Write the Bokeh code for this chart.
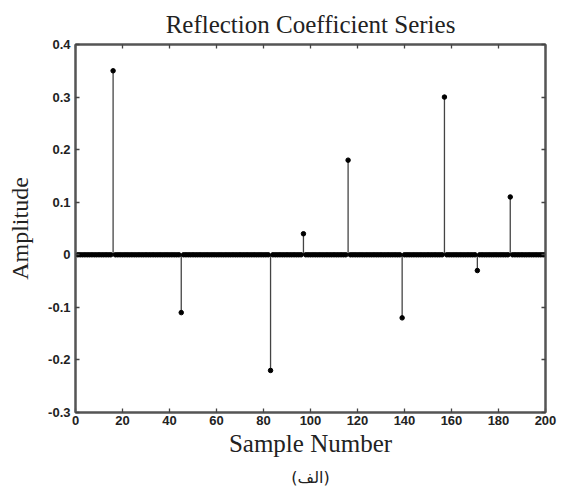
from bokeh.plotting import figure
from bokeh.models import LinearAxis, Range1d, Title, FixedTicker, ColumnDataSource
from bokeh.embed import file_html
from bokeh.resources import INLINE

# Data
n_samples = 200
spike_positions = [16, 45, 83, 97, 116, 139, 157, 171, 185]
spike_values = [0.35, -0.11, -0.22, 0.04, 0.18, -0.12, 0.30, -0.03, 0.11]
x_ticks = [0, 20, 40, 60, 80, 100, 120, 140, 160, 180, 200]
y_ticks = [-0.3, -0.2, -0.1, 0, 0.1, 0.2, 0.3, 0.4]
y_tick_labels = {-0.3: "-0.3", -0.2: "-0.2", -0.1: "-0.1", 0: "0", 0.1: "0.1", 0.2: "0.2", 0.3: "0.3", 0.4: "0.4"}

samples = list(range(1, n_samples + 1))
amps = [0.0] * n_samples
for pos, v in zip(spike_positions, spike_values):
    amps[pos - 1] = v

src = ColumnDataSource(dict(x=samples, y=amps))

p = figure(width=562, height=504, output_backend="svg", toolbar_location=None,
           x_range=Range1d(0, 200), y_range=Range1d(-0.3, 0.4),
           min_border_left=75, min_border_right=17, min_border_top=44, min_border_bottom=92)
p.grid.visible = False
p.outline_line_color = "#555555"
p.outline_line_width = 2
p.background_fill_color = "white"
p.border_fill_color = "white"

p.title.text = "Reflection Coefficient Series"
p.title.align = "center"
p.title.text_font = "Liberation Serif"
p.title.text_font_size = "25px"
p.title.text_font_style = "normal"
p.title.text_color = "#222222"
p.title.standoff = 13

stem_src = ColumnDataSource(dict(x=spike_positions, y=spike_values, y0=[0] * len(spike_values)))
p.segment(x0="x", y0="y0", x1="x", y1="y", source=stem_src, line_color="#444444", line_width=1.3)
p.scatter("x", "y", source=src, size=4.5, color="black")

def style_axis(ax):
    ax.major_tick_in = 4
    ax.major_tick_out = 0
    ax.minor_tick_in = 0
    ax.minor_tick_out = 0
    ax.axis_line_color = "#555555"
    ax.axis_line_width = 2
    ax.major_tick_line_color = "#444444"
    ax.major_tick_line_width = 1.3
    ax.major_label_text_font = "Liberation Sans"
    ax.major_label_text_font_style = "bold"
    ax.major_label_text_font_size = "13px"
    ax.major_label_text_color = "#222222"
    ax.major_label_standoff = 5

style_axis(p.xaxis[0])
style_axis(p.yaxis[0])
p.xaxis[0].ticker = FixedTicker(ticks=x_ticks)
p.yaxis[0].ticker = FixedTicker(ticks=y_ticks)
p.yaxis[0].major_label_overrides = y_tick_labels
p.xaxis[0].major_label_standoff = 3
p.xaxis[0].axis_label = "Sample Number"
p.yaxis[0].axis_label = "Amplitude"
for ax in (p.xaxis[0], p.yaxis[0]):
    ax.axis_label_text_font = "Liberation Serif"
    ax.axis_label_text_font_size = "25px"
    ax.axis_label_text_font_style = "normal"
    ax.axis_label_text_color = "#222222"
p.yaxis[0].axis_label_text_font_size = "24px"
p.xaxis[0].axis_label_standoff = 2
p.yaxis[0].axis_label_standoff = 12

top = LinearAxis(ticker=FixedTicker(ticks=x_ticks))
style_axis(top)
top.major_label_overrides = {t: "" for t in x_ticks}
top.major_label_standoff = 0
right = LinearAxis(ticker=FixedTicker(ticks=y_ticks))
style_axis(right)
right.major_label_overrides = {t: "" for t in y_ticks}
right.major_label_standoff = 0
p.add_layout(top, "above")
p.add_layout(right, "right")

cap = Title(text="(الف)", align="center", text_font="DejaVu Sans", text_font_size="16px",
            text_font_style="normal", text_color="#222222", standoff=12)
p.add_layout(cap, "below")

open("out.html", "w").write(file_html(p, INLINE))
